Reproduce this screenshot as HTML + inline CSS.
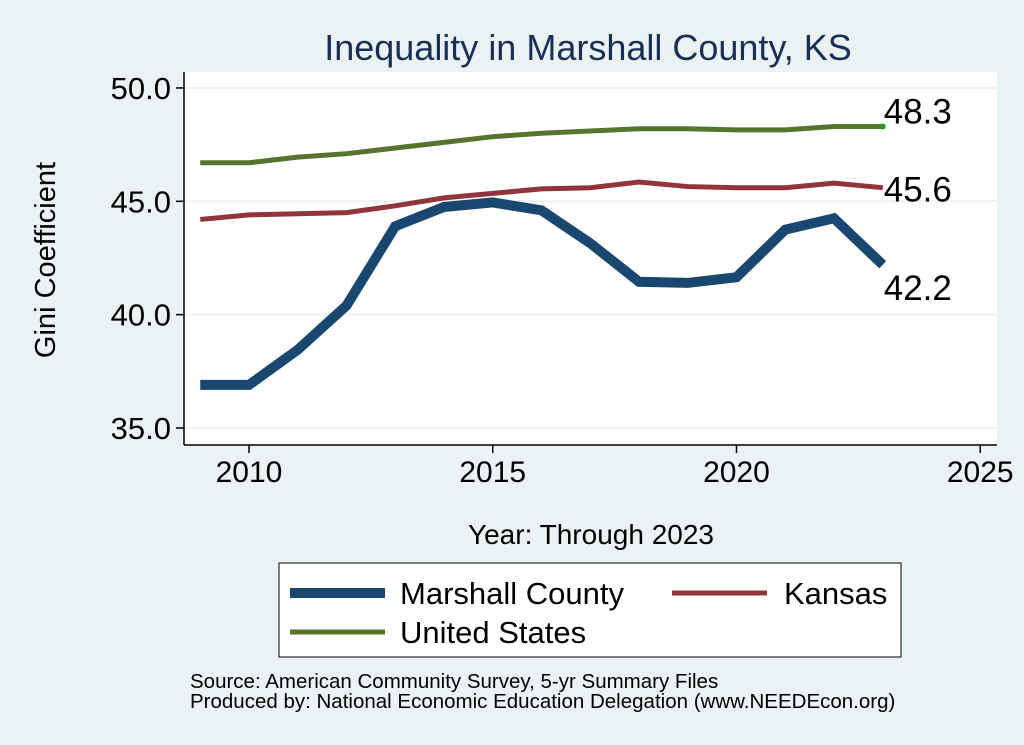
<!DOCTYPE html>
<html><head><meta charset="utf-8"><style>
body{margin:0;background:#eaf2f3;width:1024px;height:745px;overflow:hidden;font-family:"Liberation Sans",sans-serif}
</style></head><body>
<svg width="1024" height="745" style="position:absolute;left:0;top:0">
<rect x="0" y="0" width="1024" height="745" fill="#eaf2f3"/>
<rect x="184" y="72" width="813" height="373" fill="#ffffff"/>
<text x="588" y="60" text-anchor="middle" font-size="36" fill="#1a2f55">Inequality in Marshall County, KS</text>
<g id="grid"></g>
<g id="axes"></g>
<g id="series"></g>
<text transform="translate(55,260) rotate(-90)" text-anchor="middle" font-size="29" fill="#000">Gini Coefficient</text>
<text x="591" y="544" text-anchor="middle" font-size="28" fill="#000">Year: Through 2023</text>
<g>
<rect x="279" y="563" width="622" height="94" fill="#fff" stroke="#000" stroke-width="1"/>
<line x1="290" y1="593" x2="385" y2="593" stroke="#1a476f" stroke-width="10"/>
<text x="400" y="604" font-size="31">Marshall County</text>
<line x1="672" y1="593" x2="767" y2="593" stroke="#90353b" stroke-width="5"/>
<text x="784" y="604" font-size="31">Kansas</text>
<line x1="290" y1="632" x2="385" y2="632" stroke="#55752f" stroke-width="5"/>
<text x="400" y="643" font-size="31">United States</text>
</g>
<text x="190" y="688" font-size="20.5">Source: American Community Survey, 5-yr Summary Files</text>
<text x="190" y="708" font-size="20.5">Produced by: National Economic Education Delegation (www.NEEDEcon.org)</text>
</svg>
<script>
const years=[2009,2010,2011,2012,2013,2014,2015,2016,2017,2018,2019,2020,2021,2022,2023];
const marshall=[36.9,36.9,38.45,40.4,43.9,44.75,44.95,44.6,43.15,41.45,41.4,41.65,43.75,44.25,42.2];
const kansas=[44.2,44.4,44.45,44.5,44.8,45.15,45.35,45.55,45.6,45.85,45.65,45.6,45.6,45.8,45.6];
const us=[46.7,46.7,46.95,47.1,47.35,47.6,47.85,48.0,48.1,48.2,48.2,48.15,48.15,48.3,48.3];
const yTicks=[35,40,45,50];
const xTicks=[2010,2015,2020,2025];
const NS="http://www.w3.org/2000/svg";
function X(v){return 249+(v-2010)*48.75;}
function Y(v){return 428-(v-35)*22.67;}
function mk(t,a,p){const e=document.createElementNS(NS,t);for(const k in a)e.setAttribute(k,a[k]);p.appendChild(e);return e;}
const grid=document.getElementById('grid'),axes=document.getElementById('axes'),ser=document.getElementById('series');
mk('line',{x1:184,y1:72,x2:184,y2:445,stroke:'#000','stroke-width':1.5},axes);
mk('line',{x1:184,y1:445,x2:997,y2:445,stroke:'#000','stroke-width':1.5},axes);
yTicks.forEach(v=>{
 const g=mk('line',{x1:185,y1:Y(v),x2:997,y2:Y(v),stroke:'#eaf2f3','stroke-width':2},grid);
 
 
 mk('line',{x1:176,y1:Y(v),x2:184,y2:Y(v),stroke:'#000','stroke-width':1.5},axes);
 const t=mk('text',{x:171,y:Y(v)+11,'text-anchor':'end','font-size':31},axes);
 t.textContent=v.toFixed(1);
 
 
});
xTicks.forEach(v=>{
 mk('line',{x1:X(v),y1:445,x2:X(v),y2:453,stroke:'#000','stroke-width':1.5},axes);
 const t=mk('text',{x:X(v),y:482,'text-anchor':'middle','font-size':30},axes);
 t.textContent=v;
 
 
});
function line(d,c,w,name){
 const p=mk('polyline',{points:d.map((v,i)=>X(years[i])+','+Y(v)).join(' '),fill:'none',stroke:c,'stroke-width':w,'stroke-linejoin':'miter'},ser);
 
 
}
line(us,'#55752f',5,'line-united-states');
line(kansas,'#90353b',5,'line-kansas');
line(marshall,'#1a476f',10,'line-marshall-county');
mk('circle',{cx:X(2023),cy:Y(us[14]),r:3,fill:'#2a9a2a'},ser);
const last=years.length-1;
[[us,-3,'label-us-last'],[kansas,14,'label-kansas-last'],[marshall,35,'label-marshall-last']].forEach(([d,dy,n])=>{
 const t=mk('text',{x:X(2023)+1,y:Y(d[last])+dy,'font-size':35},ser);
 t.textContent=d[last].toFixed(1);
 
 
});
</script>
</body></html>
